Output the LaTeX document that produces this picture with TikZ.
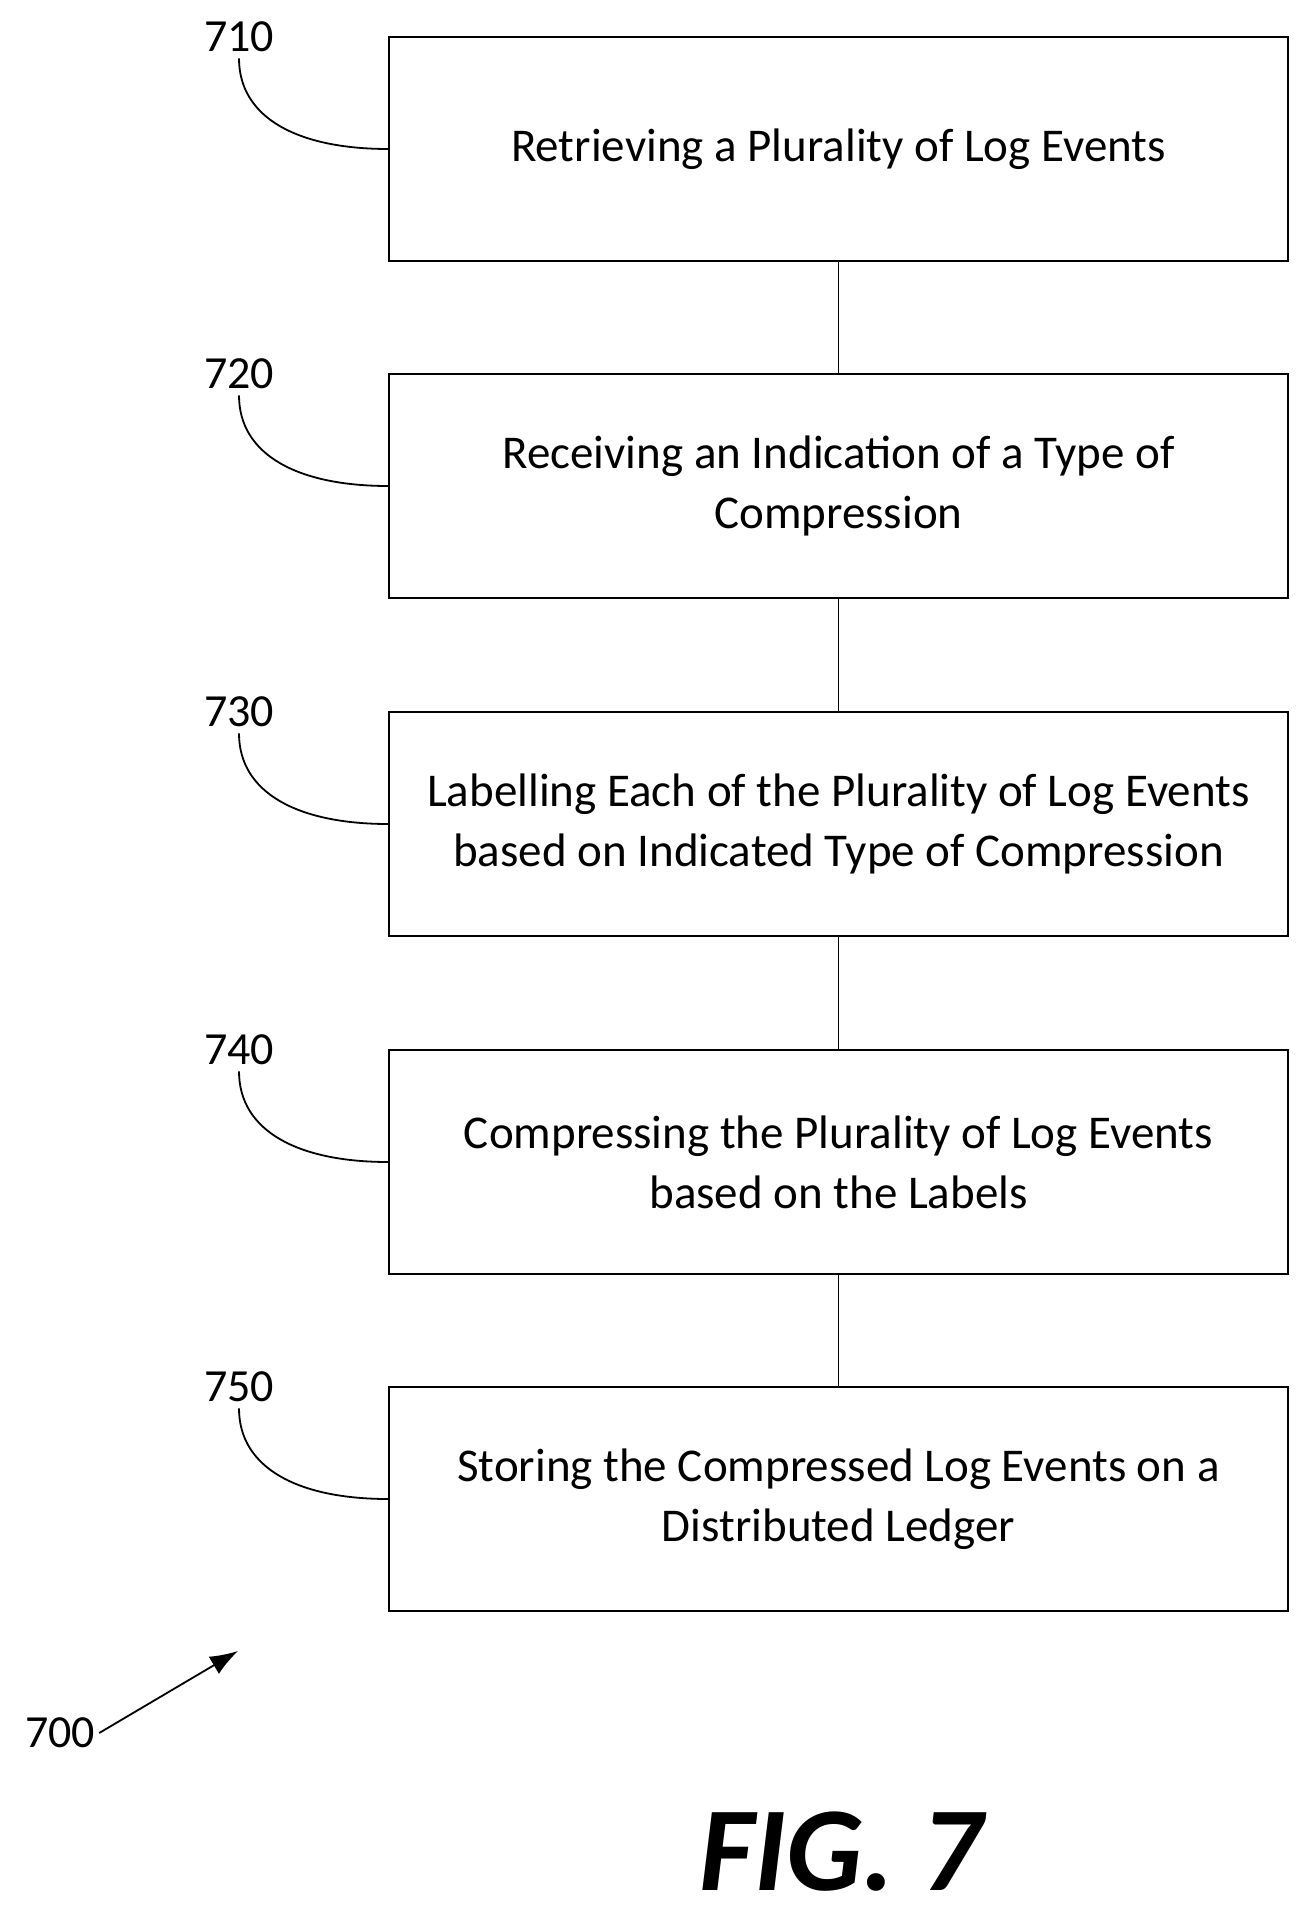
\documentclass[tikz,border=0pt]{standalone}
\usepackage{fontspec}
\setmainfont{Carlito}
\usetikzlibrary{arrows.meta}
\begin{document}
\begin{tikzpicture}[x=1pt,y=-1pt,
 box/.style={draw,line width=1.3pt,minimum width=899pt,minimum height=224pt,align=center,font=\fontsize{47}{60}\selectfont,inner sep=0pt},
 lab/.style={font=\fontsize{46}{48}\selectfont,inner sep=2pt},
 lead/.style={line width=1.8pt}]
\useasboundingbox (0,0) rectangle (1310,1910);
\foreach \n/\y/\t in {1/149/{Retrieving a Plurality of Log Events},
 2/486/{Receiving an Indication of a Type of\\Compression},
 3/824/{Labelling Each of the Plurality of Log Events\\based on Indicated Type of Compression},
 4/1162/{Compressing the Plurality of Log Events\\based on the Labels},
 5/1499/{Storing the Compressed Log Events on a\\Distributed Ledger}}{
 \node[box] (b\n) at (838.5,\y) {\t};
 \node[lab] (l\n) at (239,\y-112) {7\n0};
 \draw[lead] ([yshift=-4pt]l\n.south) .. controls +(0,60) and +(-90,0) .. (b\n.west);
}
\foreach \a/\b in {1/2,2/3,3/4,4/5}{\draw[line width=1.6pt] (b\a.south) -- (b\b.north);}
\node[lab] (l700) at (60,1733) {700};
\coordinate (t700) at (238,1651);
\draw[lead,-{Latex[length=28pt,width=20pt]}] ([xshift=2pt]l700.east) -- (t700);
\node[font=\fontsize{120}{120}\selectfont\bfseries\itshape] (fig) at (841,1852) {FIG. 7};
\end{tikzpicture}
\end{document}
